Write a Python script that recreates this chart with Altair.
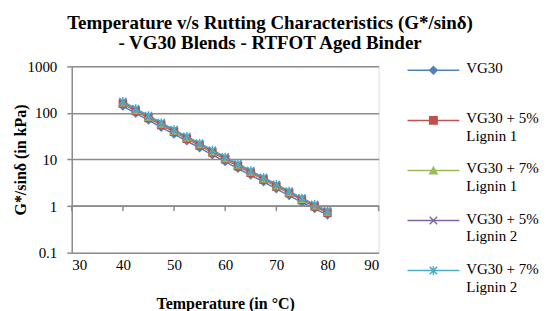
import altair as alt
import pandas as pd

temps = [40, 42.5, 45, 47.5, 50, 52.5, 55, 57.5, 60, 62.5, 65, 67.5, 70, 72.5, 75, 77.5, 80]
series = ["VG30", "VG30 + 5% Lignin 1", "VG30 + 7% Lignin 1", "VG30 + 5% Lignin 2", "VG30 + 7% Lignin 2"]
legend_labels = ["VG30", "VG30 + 5%\nLignin 1", "VG30 + 7%\nLignin 1", "VG30 + 5%\nLignin 2", "VG30 + 7%\nLignin 2"]
colors = ["#4F81BD", "#C0504D", "#9BBB59", "#8064A2", "#4BACC6"]
shapes = ["diamond", "square", "triangle-up",
          "M-1,-1L1,1M1,-1L-1,1",
          "M-1,-1L1,1M1,-1L-1,1M0,-1.2L0,1.2"]

vg30 = [140, 98, 70, 49, 35, 25, 17.8, 12.6, 9.0, 6.4, 4.6, 3.3, 2.35, 1.68, 1.2, 0.88, 0.64]
l1_5 = [158, 110, 78, 55, 39.5, 28, 20, 14.2, 10.1, 7.2, 5.2, 3.7, 2.65, 1.9, 1.35, 0.98, 0.72]
l1_7 = [165, 115, 82, 58, 41, 29.5, 21, 14.8, 10.6, 7.6, 5.4, 3.85, 2.75, 1.97, 1.41, 1.02, 0.75]
l2_5 = [170, 119, 85, 60, 42.5, 30.5, 21.7, 15.3, 11.0, 7.8, 5.6, 4.0, 2.85, 2.03, 1.45, 1.05, 0.77]
l2_7 = [178, 124, 88, 62, 44, 31.5, 22.5, 16.0, 11.4, 8.1, 5.8, 4.15, 2.95, 2.1, 1.5, 1.09, 0.8]
values = [vg30, l1_5, l1_7, l2_5, l2_7]

x_ticks = [30, 40, 50, 60, 70, 80, 90]
y_ticks = [0.1, 1, 10, 100, 1000]

rows = []
for s, vals in zip(series, values):
    for t, v in zip(temps, vals):
        rows.append({"series": s, "T": t, "G": v})
df = pd.DataFrame(rows)

FONT = "Liberation Serif"
GRAY = "#8c8c8c"
W, H = 308, 187

xscale = alt.Scale(domain=[30, 90], nice=False, zero=False)
yscale = alt.Scale(type="log", domain=[0.1, 1000], nice=False)
cscale = alt.Scale(domain=series, range=colors)
sscale = alt.Scale(domain=series, range=shapes)

base = alt.Chart(df)

lines = base.mark_line(strokeWidth=1.5).encode(
    x=alt.X("T:Q", scale=xscale,
            axis=alt.Axis(values=x_ticks, title="Temperature (in °C)", domain=False, ticks=False,
                          grid=False, labelPadding=5, labelFontSize=15, labelFont=FONT,
                          labelColor="#000", titleFont=FONT, titleFontSize=16, titleFontWeight="bold",
                          titlePadding=23, titleColor="#000")),
    y=alt.Y("G:Q", scale=yscale,
            axis=alt.Axis(values=y_ticks, format="~g", title="G*/sinδ (in kPa)", domain=True,
                          domainColor=GRAY, domainWidth=1.5, ticks=True, tickSize=5, tickColor=GRAY,
                          tickWidth=1.5, grid=True, gridColor=GRAY, gridWidth=1.5, labelPadding=10,
                          labelFontSize=15, labelFont=FONT, labelColor="#000", titleFont=FONT,
                          titleFontSize=16, titleFontWeight="bold", titlePadding=-2, titleColor="#000")),
    color=alt.Color("series:N", scale=cscale, legend=None),
    detail="series:N",
)

points = base.mark_point(strokeWidth=1.5, opacity=1, size=50).encode(
    x=alt.X("T:Q"),
    y=alt.Y("G:Q"),
    fill=alt.Fill("series:N", scale=cscale, legend=None),
    stroke=alt.Stroke("series:N", scale=cscale, legend=None),
    shape=alt.Shape("series:N", scale=sscale, legend=None),
)

axis_df = pd.DataFrame({"T0": [30], "T1": [90], "G": [1]})
xaxis_line = alt.Chart(axis_df).mark_rule(color=GRAY, strokeWidth=1.5).encode(
    x=alt.X("T0:Q"), x2="T1:Q", y=alt.Y("G:Q")
)
tick_df = pd.DataFrame({"T": x_ticks, "G": [1] * len(x_ticks), "G2": [0.78] * len(x_ticks)})
xaxis_ticks = alt.Chart(tick_df).mark_rule(color=GRAY, strokeWidth=1.5).encode(
    x=alt.X("T:Q"), y=alt.Y("G:Q"), y2="G2:Q"
)

main = alt.layer(lines, points, xaxis_line, xaxis_ticks)

# legend drawn as its own layer with independent pixel-range scales
leg_df = pd.DataFrame({"series": series, "label": legend_labels, "idx": list(range(5)),
                       "m": [26] * 5, "t": [59] * 5})
leg_line_df = pd.DataFrame({"series": series * 2, "idx": list(range(5)) * 2,
                            "lx": [0] * 5 + [52] * 5})
lx = alt.Scale(domain=[0, 130], range=[W + 29, W + 159], zero=False, nice=False)
ly = alt.Scale(domain=[0, 4], range=[4, 205], nice=False, zero=False)
leg_lines = alt.Chart(leg_line_df).mark_line(strokeWidth=1.5).encode(
    x=alt.X("lx:Q", scale=lx, axis=None),
    y=alt.Y("idx:Q", scale=ly, axis=None),
    color=alt.Color("series:N", scale=cscale, legend=None),
    detail="series:N",
)
leg_base = alt.Chart(leg_df)
leg_pts = leg_base.mark_point(strokeWidth=1.5, opacity=1, size=55).encode(
    x=alt.X("m:Q", scale=lx, axis=None), y=alt.Y("idx:Q", scale=ly, axis=None),
    fill=alt.Fill("series:N", scale=cscale, legend=None),
    stroke=alt.Stroke("series:N", scale=cscale, legend=None),
    shape=alt.Shape("series:N", scale=sscale, legend=None),
)
leg_text = leg_base.mark_text(align="left", baseline="top", lineBreak="\n", lineHeight=18,
                              font=FONT, fontSize=15, dy=-9).encode(
    x=alt.X("t:Q", scale=lx, axis=None), y=alt.Y("idx:Q", scale=ly, axis=None), text="label:N"
)
legend = alt.layer(leg_lines, leg_pts, leg_text)

chart = alt.layer(main, legend).resolve_scale(x="independent", y="independent").properties(
    width=W, height=H,
    title=alt.TitleParams(
        ["Temperature v/s Rutting Characteristics (G*/sinδ)", "- VG30 Blends - RTFOT Aged Binder"],
        font=FONT, fontSize=19, fontWeight="bold", anchor="middle", color="#000",
        lineHeight=21, offset=6, dx=45,
    )
).configure_view(strokeWidth=0, stroke="transparent").configure(background="white")

chart.save("out.html", embed_options={"renderer": "svg", "actions": False})
